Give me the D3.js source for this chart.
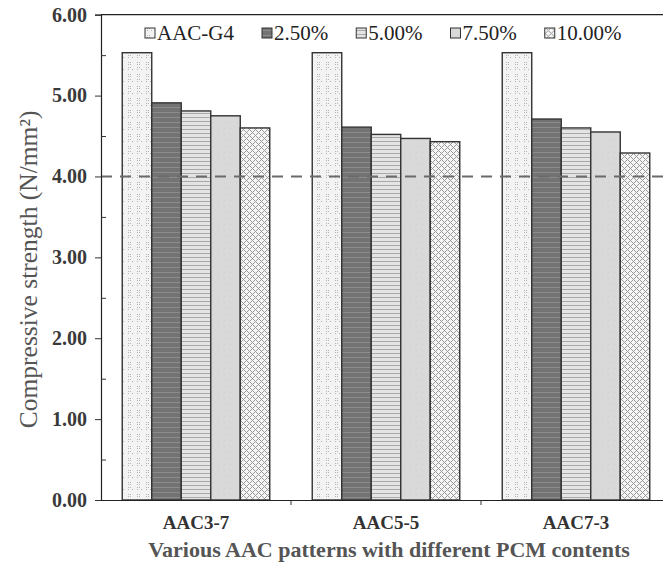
<!DOCTYPE html>
<html>
<head>
<meta charset="utf-8">
<script src="https://cdn.jsdelivr.net/npm/d3@7"></script>
<style>
  html, body { margin: 0; padding: 0; background: #fff; }
  svg { display: block; }
  text { font-family: "Liberation Serif", "Times New Roman", serif; }
</style>
</head>
<body>
<svg id="chart" width="663" height="569"></svg>
<script>
// Compressive strength of AAC blocks with different PCM contents
const categories = ["AAC3-7", "AAC5-5", "AAC7-3"];
const series = ["AAC-G4", "2.50%", "5.00%", "7.50%", "10.00%"];
const valuesG4   = [5.53, 5.53, 5.53];
const values250  = [4.91, 4.61, 4.71];
const values500  = [4.81, 4.52, 4.60];
const values750  = [4.75, 4.47, 4.55];
const values1000 = [4.60, 4.43, 4.29];
const yTicks = [0, 1, 2, 3, 4, 5, 6];
const yMinorTicks = [0.5, 1.5, 2.5, 3.5, 4.5, 5.5];
const limitValue = 4.0;
const yTitle = "Compressive strength (N/mm²)";
const xTitle = "Various AAC patterns with different PCM contents";

const seriesValues = [valuesG4, values250, values500, values750, values1000];

const svg = d3.select("#chart");
const W = 663, H = 569;
const m = { left: 101, top: 14.7, bottom: 500, right: 671 };

const defs = svg.append("defs");

// fill patterns, one per series
function pat(id, w, h, bg, draw) {
  const p = defs.append("pattern").attr("id", id).attr("patternUnits", "userSpaceOnUse")
    .attr("width", w).attr("height", h);
  p.append("rect").attr("width", w).attr("height", h).attr("fill", bg);
  draw(p);
}
// AAC-G4: pale with small dot clusters
pat("p0", 9, 12, "#f3f3f3", p => {
  [[2,2],[4,2],[2,4],[4,4],[2,7],[4,7],[6,9],[2,9]].forEach(([x,y]) =>
    p.append("rect").attr("x", x).attr("y", y).attr("width", 1).attr("height", 1).attr("fill", "#b5b5b5"));
});
// 2.50%: dark grey with faint horizontal lines
pat("p1", 6, 5, "#737373", p => {
  p.append("rect").attr("x", 0).attr("y", 2).attr("width", 6).attr("height", 1).attr("fill", "#8c8c8c");
});
// 5.00%: light grey horizontal hatch
pat("p2", 6, 4, "#e4e4e4", p => {
  p.append("rect").attr("x", 0).attr("y", 1).attr("width", 6).attr("height", 1).attr("fill", "#a9a9a9");
});
// 7.50%: light grey
pat("p3", 6, 6, "#d9d9d9", p => {
  p.append("rect").attr("x", 2).attr("y", 2).attr("width", 1).attr("height", 1).attr("fill", "#cfcfcf");
});
// 10.00%: diamond dot crosshatch
pat("p4", 6, 6, "#f6f6f6", p => {
  [[0,0],[3,3],[1,1],[2,2],[4,4],[5,5],[5,1],[1,5],[4,2],[2,4]].forEach(([x,y]) =>
    p.append("rect").attr("x", x).attr("y", y).attr("width", 1).attr("height", 1).attr("fill", "#9a9a9a"));
});
const fills = ["url(#p0)", "url(#p1)", "url(#p2)", "url(#p3)", "url(#p4)"];

// scales
const x0 = d3.scaleBand().domain(categories).range([m.left, m.right]).padding(0);
const x1 = d3.scaleBand().domain(series).range([0, x0.bandwidth()])
  .paddingInner(0).paddingOuter(0.72);
const y = d3.scaleLinear().domain([0, 6]).range([m.bottom, m.top]);

// bars
const rows = [];
categories.forEach((c, ci) => series.forEach((s, si) =>
  rows.push({ c, s, si, v: seriesValues[si][ci] })));

svg.append("g").selectAll("rect").data(rows).join("rect")
  .attr("x", d => x0(d.c) + x1(d.s))
  .attr("y", d => y(d.v))
  .attr("width", x1.bandwidth())
  .attr("height", d => y(0) - y(d.v))
  .attr("fill", d => fills[d.si])
  .attr("stroke", "#333")
  .attr("stroke-width", 1.4);

// 4.00 N/mm² reference line
svg.append("line")
  .attr("x1", m.left).attr("x2", W)
  .attr("y1", y(limitValue)).attr("y2", y(limitValue))
  .attr("stroke", "#6a6a6a").attr("stroke-width", 2)
  .attr("stroke-dasharray", "11,8");

// top frame line
svg.append("line").attr("x1", m.left).attr("x2", W)
  .attr("y1", y(6)).attr("y2", y(6)).attr("stroke", "#222").attr("stroke-width", 1.2);

// y axis
const yAxis = svg.append("g").attr("transform", `translate(${m.left},0)`)
  .call(d3.axisLeft(y).tickValues(yTicks).tickFormat(d3.format(".2f")).tickSize(6).tickPadding(8));
yAxis.select(".domain").attr("stroke", "#222").attr("stroke-width", 1.2);
yAxis.selectAll(".tick line").attr("stroke", "#333");
yAxis.selectAll("text").attr("font-size", 20).attr("font-weight", "bold").attr("fill", "#3a3a3a")
  .attr("font-family", "Liberation Serif, serif");
const yMinor = svg.append("g").attr("transform", `translate(${m.left},0)`)
  .call(d3.axisRight(y).tickValues(yMinorTicks).tickSize(5).tickFormat(""));
yMinor.select(".domain").remove();
yMinor.selectAll(".tick line").attr("stroke", "#333");

// x axis
const xAxis = svg.append("g").attr("transform", `translate(0,${m.bottom})`)
  .call(d3.axisBottom(x0).tickSize(0).tickPadding(16));
xAxis.select(".domain").attr("stroke", "#222").attr("stroke-width", 1.2);
xAxis.selectAll("text").attr("font-size", 19).attr("font-weight", "bold").attr("fill", "#333")
  .attr("font-family", "Liberation Serif, serif");
// separators between categories
svg.append("g").selectAll("line").data(categories.slice(1)).join("line")
  .attr("x1", d => x0(d)).attr("x2", d => x0(d))
  .attr("y1", m.bottom).attr("y2", m.bottom + 5)
  .attr("stroke", "#333");

// axis titles
svg.append("text")
  .attr("transform", `translate(37,${(y(0) + y(6)) / 2 + 12}) rotate(-90)`)
  .attr("text-anchor", "middle")
  .attr("font-size", 25.5).attr("fill", "#555")
  .text(yTitle);
svg.append("text")
  .attr("x", 389).attr("y", 557)
  .attr("text-anchor", "middle")
  .attr("font-size", 22).attr("font-weight", "bold").attr("fill", "#555")
  .text(xTitle);

// legend
const legend = svg.append("g").attr("transform", "translate(145,33)");
let lx = 0;
series.forEach((s, i) => {
  const g = legend.append("g").attr("transform", `translate(${lx},0)`);
  g.append("rect").attr("x", 0).attr("y", -5).attr("width", 10).attr("height", 10)
    .attr("fill", fills[i]).attr("stroke", "#333").attr("stroke-width", 1);
  const t = g.append("text").attr("x", 12).attr("y", 7)
    .attr("font-size", 21).attr("fill", "#222").text(s);
  lx += 12 + t.node().getComputedTextLength() + 28;
});
</script>
</body>
</html>
